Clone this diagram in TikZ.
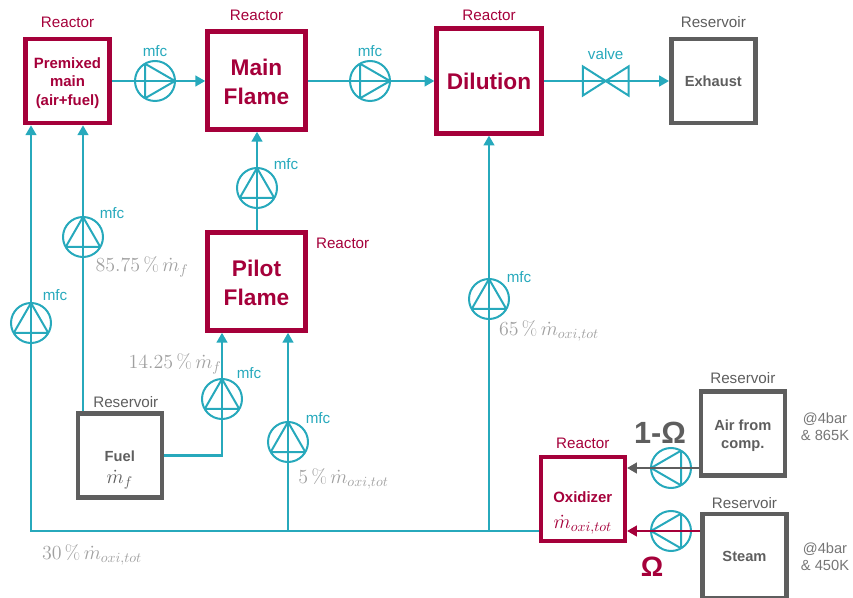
\documentclass[tikz,border=0pt]{standalone}
\usepackage{fix-cm}
\usepackage{amsmath,amssymb}
\usepackage{fontspec}
\setsansfont{Liberation Sans}
\usepackage{tikz}
\usetikzlibrary{arrows.meta,positioning}
\definecolor{FlameCrimson}{HTML}{A5003A}
\definecolor{PipeTeal}{HTML}{27A9BC}
\definecolor{TankGrey}{HTML}{5E5E5E}
\definecolor{ShareGrey}{HTML}{A0A0A0}
\newcommand{\sizept}[2]{\fontsize{#1}{#2}\selectfont}
\begin{document}
\begin{tikzpicture}[
    x=0.75pt,y=-0.75pt,
    font=\sffamily,
    reactor/.style={draw=FlameCrimson,line width=3.4pt,text=FlameCrimson,inner sep=0pt,minimum size=#1,align=center,font=\sffamily\bfseries\sizept{11.2}{14}},
    tank/.style={draw=TankGrey,line width=3.4pt,text=TankGrey,inner sep=0pt,minimum size=63pt,align=center,font=\sffamily\bfseries\sizept{11}{13.6}},
    bigname/.style={font=\sffamily\bfseries\sizept{17}{21.75}},
    reactortag/.style={text=FlameCrimson,inner sep=0pt,font=\sffamily\sizept{11.4}{14}},
    tanktag/.style={text=TankGrey,inner sep=0pt,font=\sffamily\sizept{11.4}{14}},
    mfctag/.style={text=PipeTeal,inner sep=0pt,font=\sffamily\sizept{11.4}{14}},
    share/.style={text=ShareGrey,inner sep=0pt,font=\sizept{15}{18}},
    cond/.style={text=TankGrey!85,inner sep=0pt,align=center,font=\sffamily\sizept{11}{12}},
    pump/.style={circle,draw=PipeTeal,line width=1.5pt,inner sep=0pt,minimum size=30pt,
      path picture={\draw[PipeTeal,line width=1.5pt,shift={(path picture bounding box.center)}]
        (#1:15pt) -- (#1+120:15pt) -- (#1+240:15pt) -- cycle;}},
    pipe/.style={-{Triangle[length=7.4pt,width=8pt]},line width=1.7pt,PipeTeal}
  ]
    \useasboundingbox (0,0) rectangle (853,598);

    % vessels
    \node[reactor=63pt] (premix) at (67.5,81) {\rule{0pt}{11pt}Premixed\\main\\(air+fuel)};
    \node[reactor=73.5pt,bigname,text width=70pt] (main) at (256.5,80.5) {\rule{0pt}{14pt}Main\\Flame};
    \node[reactor=73.5pt,bigname,text width=70pt] (pilot) at (256.5,281.5) {\rule{0pt}{14pt}Pilot\\Flame};
    \node[reactor=78.5pt,bigname] (dilution) at (489,81) {Dilution};
    \node[reactor=63pt] (oxidizer) at (582.8,499) {\rule{0pt}{29pt}Oxidizer\\[5pt]{\sizept{15}{15}$\dot{m}_{oxi,tot}$}};
    \node[tank] (exhaust) at (713.3,81) {Exhaust};
    \node[tank] (fuel) at (119.8,455.5) {\rule{0pt}{30pt}Fuel\\[3pt]{\sizept{15}{15}$\dot{m}_f$}};
    \node[tank] (air) at (742.8,433.5) {\rule{0pt}{11pt}Air from\\comp.};
    \node[tank] (steam) at (744.5,556) {Steam};

    % vessel tags
    \node[reactortag,above=6.4pt of premix] (premixtag) {Reactor};
    \node[reactortag,above=6.4pt of main] (maintag) {Reactor};
    \node[reactortag,above=4.2pt of dilution] (dilutiontag) {Reactor};
    \node[reactortag,right=6pt of pilot.north east,yshift=-9.75pt] (pilottag) {Reactor};
    \node[reactortag,above=4.2pt of oxidizer] (oxidizertag) {Reactor};
    \node[tanktag,above=6.4pt of exhaust] (exhausttag) {Reservoir};
    \node[tanktag,above=2.4pt of fuel,xshift=4.5pt] (fueltag) {Reservoir};
    \node[tanktag,above=4.2pt of air] (airtag) {Reservoir};
    \node[tanktag,above=2.4pt of steam] (steamtag) {Reservoir};

    % flow controllers
    \node[pump=0] (pumpmain) at (155,81) {};
    \node[pump=0] (pumpdil) at (370,81) {};
    \node[pump=90] (pumppilot) at (257,188) {};
    \node[pump=90] (pumpfuel) at (83,237) {};
    \node[pump=90] (pumpair) at (31,323) {};
    \node[pump=90] (pumpfuelb) at (222,399) {};
    \node[pump=90] (pumpfive) at (288,442) {};
    \node[pump=90] (pumpsixty) at (489,299) {};
    \node[pump=180] (pumpcomp) at (671,468) {};
    \node[pump=180] (pumpsteam) at (671,531) {};

    \node[mfctag,above=2pt of pumpmain] (tagmain) {mfc};
    \node[mfctag,above=2pt of pumpdil] (tagdil) {mfc};
    \node[mfctag] (tagpilot) at (286,164) {mfc};
    \node[mfctag] (tagfuel) at (112,213) {mfc};
    \node[mfctag] (tagair) at (55,295) {mfc};
    \node[mfctag] (tagfuelb) at (249,373) {mfc};
    \node[mfctag] (tagfive) at (318,418) {mfc};
    \node[mfctag] (tagsixty) at (519,277) {mfc};

    % valve
    \node[minimum width=34pt,minimum height=21.5pt,inner sep=0pt] (valve) at (605.7,81) {};
    \node[mfctag,above=4.5pt of valve] (tagvalve) {valve};
    \draw[PipeTeal,line width=1.5pt] (valve.north west) -- (valve.south east) -- (valve.north east) -- (valve.south west) -- cycle;

    % flows
    \draw[pipe] (premix.east) -- (pumpmain.center) -- (main.west |- pumpmain);
    \draw[pipe] (main.east |- pumpdil) -- (pumpdil.center) -- (dilution.west |- pumpdil);
    \draw[pipe] (dilution.east) -- (valve.center) -- (exhaust.west);
    \draw[pipe] (pilot.north -| pumppilot) -- (pumppilot.center) -- (main.south -| pumppilot);
    \draw[pipe] (fuel.north -| pumpfuel) -- (pumpfuel.center) -- (premix.south -| pumpfuel);
    \draw[pipe] (fuel.east) -| (pumpfuelb.center) -- (pilot.south -| pumpfuelb);
    \draw[pipe] (oxidizer.west |- pumpsteam) -- (pumpair |- pumpsteam) -- (pumpair.center) -- (premix.south -| pumpair);
    \draw[pipe] (pumpfive |- pumpsteam) -- (pumpfive.center) -- (pilot.south -| pumpfive);
    \draw[pipe] (pumpsixty |- pumpsteam) -- (pumpsixty.center) -- (dilution.south);
    \draw[pipe,TankGrey] (air.west |- pumpcomp) -- (pumpcomp.center) -- (oxidizer.east |- pumpcomp);
    \draw[pipe,FlameCrimson] (steam.west |- pumpsteam) -- (pumpsteam.center) -- (oxidizer.east |- pumpsteam);

    % shares
    \node[share] (sharea) at (142,267) {$85.75\,\%\,\dot{m}_f$};
    \node[share] (shareb) at (175,364) {$14.25\,\%\,\dot{m}_f$};
    \node[share] (sharec) at (343.5,479) {$5\,\%\,\dot{m}_{oxi,tot}$};
    \node[share] (shared) at (549,331) {$65\,\%\,\dot{m}_{oxi,tot}$};
    \node[share] (sharee) at (92,555) {$30\,\%\,\dot{m}_{oxi,tot}$};

    \node[inner sep=0pt,text=TankGrey,font=\sffamily\bfseries\sizept{23}{23}] (fracair) at (660,433) {1-Ω};
    \node[inner sep=0pt,text=FlameCrimson,font=\sffamily\bfseries\sizept{21}{21}] (fracsteam) at (652,567) {Ω};
    \node[cond] (condair) at (825,427) {@4bar\\[1pt]\& 865K};
    \node[cond] (condsteam) at (825,557) {@4bar\\[1pt]\& 450K};
  \end{tikzpicture}
\end{document}
